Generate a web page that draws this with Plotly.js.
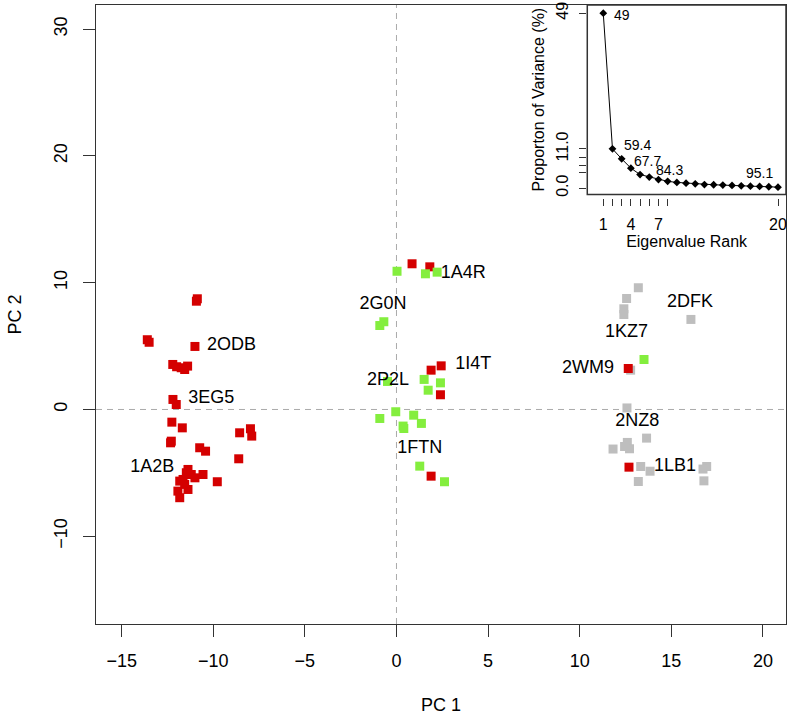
<!DOCTYPE html>
<html>
<head>
<meta charset="utf-8">
<script src="https://cdn.plot.ly/plotly-3.0.1.min.js"></script>
<style>html,body{margin:0;padding:0;background:#fff;}#chart{width:792px;height:720px;}</style>
</head>
<body>
<div id="chart"></div>
<script>
// ---- Main PCA scores ----
const redX = [-10.87, -10.92, -13.6, -13.5, -11.0, -12.21, -12.0, -11.75, -11.4, -11.56, -12.2, -12.02, -12.26, -11.69, -12.29, -12.33, -10.74, -10.42, -8.56, -7.97, -7.9, -8.61, -11.38, -11.47, -11.2, -11.65, -11.0, -10.56, -11.83, -11.56, -11.93, -11.38, -11.83, -9.78, 0.85, 1.82, 1.89, 2.44, 2.4, 1.89, 12.65, 12.69];
const redY = [8.73, 8.54, 5.5, 5.3, 4.97, 3.55, 3.37, 3.29, 3.42, 3.15, 0.79, 0.39, -1.0, -1.45, -2.5, -2.63, -3.02, -3.29, -1.84, -1.52, -2.1, -3.89, -4.73, -4.99, -5.13, -5.52, -5.39, -5.13, -5.65, -5.91, -6.44, -6.31, -6.96, -5.7, 11.49, 11.25, 3.1, 3.44, 1.16, -5.26, 3.23, -4.55];
const greenX = [0.03, 1.58, 2.22, -0.91, -0.69, -0.49, 1.51, 2.4, 1.73, -0.04, -0.91, 0.94, 0.36, 0.4, 1.36, 1.27, 2.62, 13.51];
const greenY = [10.9, 10.7, 10.83, 6.62, 6.92, 2.21, 2.37, 2.1, 1.52, -0.18, -0.71, -0.45, -1.31, -1.5, -1.1, -4.47, -5.7, 3.94];
const grayX = [13.2, 12.56, 12.41, 12.41, 16.07, 12.78, 12.58, 12.6, 12.72, 11.82, 12.45, 13.65, 13.33, 13.84, 13.2, 16.93, 16.73, 16.78];
const grayY = [9.6, 8.75, 7.94, 7.49, 7.1, 3.1, 0.12, -2.6, -3.1, -3.12, -2.92, -2.26, -4.5, -4.87, -5.68, -4.5, -4.7, -5.63];

const labelText = ['1A4R', '2G0N', '1I4T', '2P2L', '1FTN', '2ODB', '3EG5', '1A2B', '2DFK', '1KZ7', '2WM9', '2NZ8', '1LB1'];
const labelX = [3.64, -0.73, 4.19, -0.46, 1.27, -9.01, -10.11, -13.33, 16.02, 12.56, 10.46, 13.14, 15.2];
const labelY = [10.7, 8.28, 3.55, 2.31, -3.08, 5.05, 0.84, -4.6, 8.46, 6.05, 3.21, -0.92, -4.47];

const xTicks = [-15, -10, -5, 0, 5, 10, 15, 20];
const yTicks = [-10, 0, 10, 20, 30];

// ---- Inset: scree plot ----
const rank = [1, 2, 3, 4, 5, 6, 7, 8, 9, 10, 11, 12, 13, 14, 15, 16, 17, 18, 19, 20];
const propVar = [49, 11.0, 8.2, 5.6, 3.8, 3.1, 2.4, 1.9, 1.6, 1.4, 1.2, 1.0, 0.95, 0.85, 0.75, 0.65, 0.55, 0.47, 0.39, 0.28];
const cumLabels = ['49', '59.4', '67.7', '84.3', '95.1'];
const cumLabelRank = [1.98, 3.0, 4.09, 6.51, 16.3];
const cumLabelVal = [48.5, 12.1, 7.6, 5.2, 4.2];
const insetXTicks = [1, 2, 3, 4, 5, 6, 7, 8, 20];
const insetXTickText = ['1', '', '', '4', '', '', '7', '', '20'];
const insetYTicks = [0, 4.3, 6.4, 8.5, 11, 49];
const insetYTickText = ['0.0', '', '', '', '11.0', '49'];

const FONT = 'Liberation Sans, Arial, Helvetica, sans-serif';
const AX = '#333333';

const sq = (x, y, c) => ({
  type: 'scatter', mode: 'markers', x: x, y: y, xaxis: 'x', yaxis: 'y',
  marker: {symbol: 'square', size: 9, color: c, line: {width: 0}},
  hoverinfo: 'skip'
});

const traces = [
  sq(grayX, grayY, '#BEBEBE'),
  sq(redX, redY, '#D40000'),
  sq(greenX, greenY, '#84EE3E'),
  {
    type: 'scatter', mode: 'text', x: labelX, y: labelY, text: labelText,
    textposition: 'middle center', textfont: {family: FONT, size: 18, color: '#000'},
    hoverinfo: 'skip', xaxis: 'x', yaxis: 'y'
  },
  {
    type: 'scatter', mode: 'lines+markers', x: rank, y: propVar, xaxis: 'x2', yaxis: 'y2',
    line: {color: '#000', width: 1}, marker: {symbol: 'diamond', size: 6, color: '#000'},
    hoverinfo: 'skip', cliponaxis: false
  }
];

const annotations = cumLabels.map((t, i) => ({
  xref: 'x2', yref: 'y2', x: cumLabelRank[i], y: cumLabelVal[i], text: t,
  showarrow: false, xanchor: 'left', yanchor: 'middle',
  font: {family: FONT, size: 14, color: '#000'}
}));

const layout = {
  width: 792, height: 720,
  margin: {l: 96, r: 6, t: 5, b: 96, pad: 0},
  paper_bgcolor: '#fff', plot_bgcolor: '#fff',
  showlegend: false,
  font: {family: FONT, size: 18, color: '#000'},
  xaxis: {
    domain: [0, 1], anchor: 'y', range: [-16.40, 21.26],
    tickvals: xTicks, ticks: 'outside', ticklen: 12, tickwidth: 1, tickcolor: AX,
    showline: true, mirror: true, linecolor: AX, linewidth: 1,
    showgrid: false, zeroline: false,
    tickfont: {family: FONT, size: 18}, ticklabelstandoff: 8,
    title: {text: 'PC 1', font: {family: FONT, size: 18}, standoff: 28}
  },
  yaxis: {
    domain: [0, 1], anchor: 'x', range: [-16.92, 31.9],
    tickvals: yTicks, ticks: 'outside', ticklen: 12, tickwidth: 1, tickcolor: AX,
    showline: true, mirror: true, linecolor: AX, linewidth: 1,
    showgrid: false, zeroline: false, tickangle: -90,
    tickfont: {family: FONT, size: 18}, ticklabelstandoff: 9,
    title: {text: 'PC 2', font: {family: FONT, size: 18}, standoff: 24}
  },
  xaxis2: {
    domain: [0.712, 1], anchor: 'free', position: 0.689, range: [-0.74, 20.87],
    tickvals: insetXTicks, ticktext: insetXTickText,
    ticks: 'outside', ticklen: 7, tickwidth: 1, tickcolor: AX,
    showline: false, showgrid: false, zeroline: false,
    tickfont: {family: FONT, size: 16}, ticklabelstandoff: 5,
    title: {text: 'Eigenvalue Rank', font: {family: FONT, size: 16}, standoff: 0}
  },
  yaxis2: {
    domain: [0.694, 1], anchor: 'free', position: 0.710, range: [-1.76, 51.3],
    tickvals: insetYTicks, ticktext: insetYTickText,
    ticks: 'outside', ticklen: 7, tickwidth: 1, tickcolor: AX,
    showline: false, showgrid: false, zeroline: false, tickangle: -90,
    tickfont: {family: FONT, size: 16}, ticklabelstandoff: 5,
    title: {text: 'Proporton of Variance (%)', font: {family: FONT, size: 16}, standoff: 3}
  },
  shapes: [
    {type: 'line', xref: 'x', yref: 'y domain', x0: 0, x1: 0, y0: 0, y1: 1,
     line: {color: '#AAAAAA', width: 1, dash: '6px,5px'}, layer: 'below'},
    {type: 'line', xref: 'x domain', yref: 'y', x0: 0, x1: 1, y0: 0, y1: 0,
     line: {color: '#AAAAAA', width: 1, dash: '6px,5px'}, layer: 'below'},
    {type: 'rect', xref: 'paper', yref: 'paper', x0: 0.712, x1: 1, y0: 0.694, y1: 1,
     line: {color: AX, width: 1.5}, fillcolor: 'rgba(0,0,0,0)', layer: 'above'}
  ],
  annotations: annotations
};

Plotly.newPlot('chart', traces, layout, {displayModeBar: false, staticPlot: true});
</script>
</body>
</html>
